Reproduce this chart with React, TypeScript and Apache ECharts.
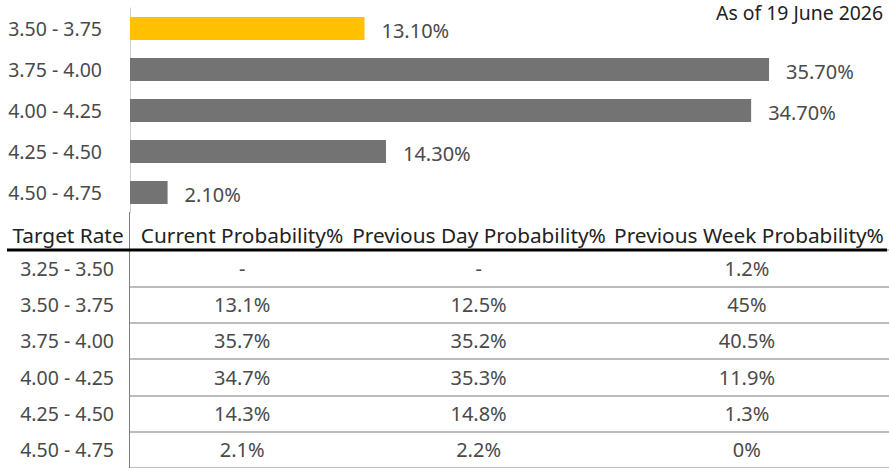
import React, { useEffect, useRef } from "react";
import * as echarts from "echarts";

// ---- data ----
const barCategories = ["3.50 - 3.75", "3.75 - 4.00", "4.00 - 4.25", "4.25 - 4.50", "4.50 - 4.75"];
const barValues = [13.1, 35.7, 34.7, 14.3, 2.1];
const highlightCategory = "3.50 - 3.75";
const asOfText = "As of 19 June 2026";

const tableHeaders = ["Target Rate", "Current Probability%", "Previous Day Probability%", "Previous Week Probability%"];
const tableRates = ["3.25 - 3.50", "3.50 - 3.75", "3.75 - 4.00", "4.00 - 4.25", "4.25 - 4.50", "4.50 - 4.75"];
const currentProb = ["-", "13.1%", "35.7%", "34.7%", "14.3%", "2.1%"];
const prevDayProb = ["-", "12.5%", "35.2%", "35.3%", "14.8%", "2.2%"];
const prevWeekProb = ["1.2%", "45%", "40.5%", "11.9%", "1.3%", "0%"];

// ---- layout / style ----
const FONT = "Noto Sans";
const FS = 20;
const LABEL_FS = 19.5;
const HEAD_FS = 20.8;
const TEXT = "#4a4a4a";
const HEAD = "#222222";
const GOLD = "#FFC000";
const GRAY_BAR = "#737373";
const TABLE_LEFT = 129;
const TABLE_TOP = 250;
const COL_FRAC = [0.149, 0.46, 0.813]; // column centres within table grid (0..1)
const HEADER_X = [68, 242, 479, 749];

export default function App() {
  const ref = useRef<HTMLDivElement>(null);
  useEffect(() => {
    document.body.style.margin = "0";
    if (!ref.current) return;
    const chart = echarts.init(ref.current, undefined, { renderer: "svg" });
    const columns = [currentProb, prevDayProb, prevWeekProb];
    const cellData: any[] = [];
    columns.forEach((col, ci) =>
      col.forEach((txt, ri) => cellData.push([COL_FRAC[ci], ri, txt]))
    );

    chart.setOption({
      animation: false,
      textStyle: { fontFamily: FONT },
      grid: [
        { left: 130, top: 8, height: 205, width: 716 },
        { left: TABLE_LEFT, right: 0, top: TABLE_TOP, height: 227 },
      ],
      xAxis: [
        { gridIndex: 0, type: "value", min: 0, max: 40, show: false },
        { gridIndex: 1, type: "value", min: 0, max: 1, show: false },
      ],
      yAxis: [
        {
          gridIndex: 0,
          type: "category",
          inverse: true,
          data: barCategories,
          axisLine: { show: true, lineStyle: { color: "#d0d0d0", width: 1 } },
          axisTick: { show: false },
          axisLabel: { color: TEXT, fontSize: LABEL_FS, fontFamily: FONT, margin: 28 },
        },
        {
          gridIndex: 1,
          type: "category",
          inverse: true,
          data: tableRates,
          axisLine: { show: true, lineStyle: { color: "#808080", width: 1 } },
          axisTick: { show: false },
          axisLabel: { color: TEXT, fontSize: LABEL_FS, fontFamily: FONT, margin: 15, interval: 0 },
          splitLine: { show: true, interval: 0, lineStyle: { color: "#a6a6a6", width: 1.5 } },
        },
      ],
      series: [
        {
          type: "bar",
          xAxisIndex: 0,
          yAxisIndex: 0,
          barWidth: 23,
          data: barValues.map((v, i) => ({
            value: v,
            itemStyle: { color: barCategories[i] === highlightCategory ? GOLD : GRAY_BAR },
          })),
          label: {
            show: true,
            position: "right",
            distance: 17,
            offset: [0, 2],
            color: TEXT,
            fontSize: FS,
            fontFamily: FONT,
            formatter: (p: any) => p.value.toFixed(2) + "%",
          },
        },
        {
          type: "custom",
          xAxisIndex: 1,
          yAxisIndex: 1,
          data: cellData,
          renderItem: (params: any, api: any) => {
            const pt = api.coord([api.value(0), api.value(1)]);
            return {
              type: "text",
              x: pt[0],
              y: pt[1],
              style: {
                text: cellData[params.dataIndex][2],
                fill: TEXT,
                font: `${FS}px "${FONT}"`,
                align: "center",
                verticalAlign: "middle",
              },
            };
          },
        },
      ],
      graphic: [
        {
          type: "text",
          right: 6,
          top: 3,
          style: { text: asOfText, fill: "#222", font: `19.4px "${FONT}"` },
        },
        ...tableHeaders.map((h, i) => ({
          type: "text",
          x: HEADER_X[i],
          y: 235,
          style: {
            text: h,
            fill: HEAD,
            font: `${HEAD_FS}px "${FONT}"`,
            align: "center",
            verticalAlign: "middle",
          },
        })),
        {
          type: "line",
          shape: { x1: TABLE_LEFT + 0.5, y1: 212, x2: TABLE_LEFT + 0.5, y2: TABLE_TOP },
          style: { stroke: "#808080", lineWidth: 1 },
        },
        {
          type: "line",
          shape: { x1: 7, y1: TABLE_TOP, x2: 887, y2: TABLE_TOP },
          style: { stroke: "#000", lineWidth: 3 },
          z: 10,
        },
      ],
    });
    return () => chart.dispose();
  }, []);
  return <div ref={ref} style={{ width: 889, height: 468 }} />;
}
